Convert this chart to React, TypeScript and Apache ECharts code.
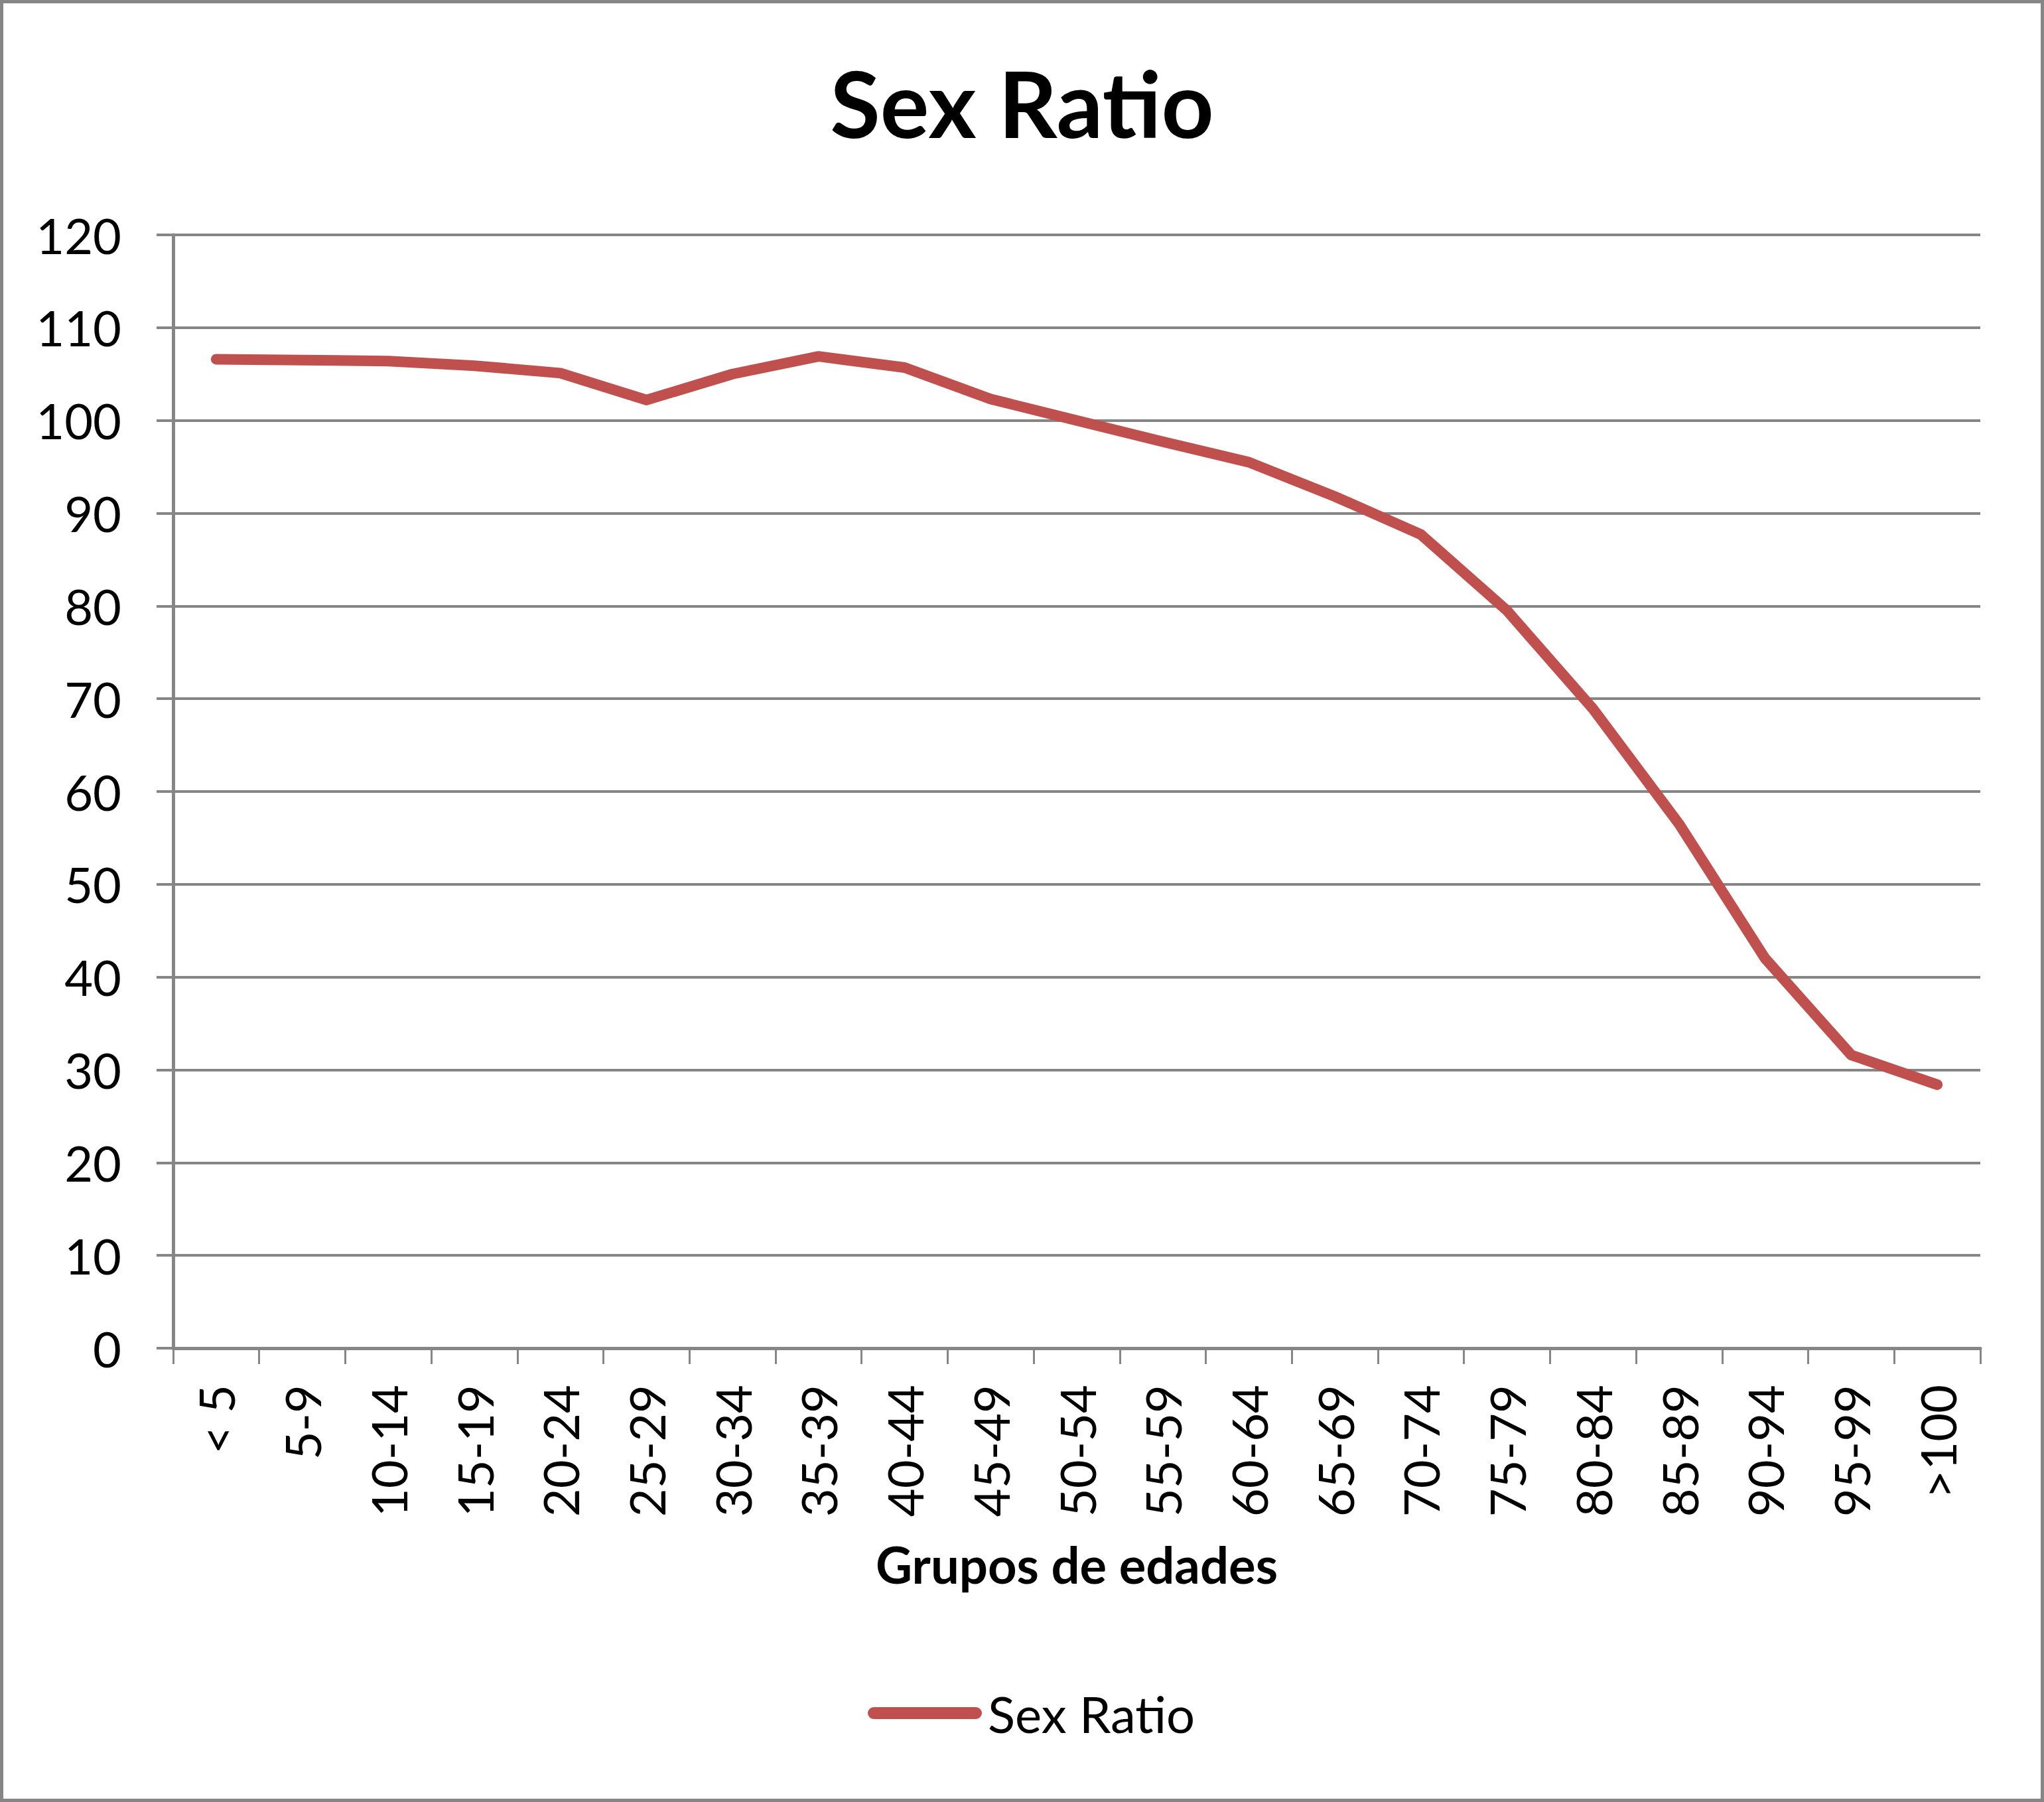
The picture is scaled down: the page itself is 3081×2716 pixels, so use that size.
import React, { useEffect, useRef } from "react";
import * as echarts from "echarts";

const categories = ["< 5", "5-9", "10-14", "15-19", "20-24", "25-29", "30-34", "35-39", "40-44", "45-49", "50-54", "55-59", "60-64", "65-69", "70-74", "75-79", "80-84", "85-89", "90-94", "95-99", ">100"];
const sexRatio = [106.6, 106.5, 106.4, 105.9, 105.1, 102.2, 105.0, 106.9, 105.7, 102.3, 100.0, 97.7, 95.5, 91.8, 87.7, 79.5, 68.9, 56.5, 42.0, 31.6, 28.4];
const yTicks = { min: 0, max: 120, interval: 10 };

const W = 3081;
const H = 2716;
const GRAY = "#868686";
const RED = "#C0504D";
const FONT = "Lato";

export default function App() {
  const ref = useRef<HTMLDivElement>(null);
  useEffect(() => {
    if (!ref.current) return;
    const chart = echarts.init(ref.current, null, { renderer: "svg" });
    chart.setOption({
      animation: false,
      backgroundColor: "#ffffff",
      title: {
        text: "Sex Ratio",
        left: "center",
        top: 80,
        textStyle: { fontFamily: FONT, fontWeight: "bold", fontSize: 138, color: "#000" },
      },
      graphic: [
        {
          type: "rect",
          shape: { x: 2.5, y: 2.5, width: W - 5, height: H - 5 },
          style: { fill: "none", stroke: GRAY, lineWidth: 5 },
          silent: true,
        },
      ],
      legend: {
        data: ["Sex Ratio"],
        left: 1303,
        top: 2539,
        itemWidth: 172,
        itemHeight: 18,
        itemGap: 10,
        icon: "path://M9,0 L163,0 A9,9 0 0 1 163,18 L9,18 A9,9 0 0 1 9,0 Z",
        itemStyle: { borderWidth: 0 },
        textStyle: { fontFamily: FONT, fontSize: 76, color: "#000", padding: [0, 0, 0, 4] },
      },
      grid: { left: 261, right: 96, top: 354, bottom: 684, containLabel: false },
      xAxis: {
        type: "category",
        data: categories,
        boundaryGap: true,
        axisLine: { show: true, lineStyle: { color: GRAY, width: 5 } },
        axisTick: { show: true, length: 24, lineStyle: { color: GRAY, width: 3 } },
        axisLabel: { interval: 0, rotate: 90, margin: 55, fontFamily: FONT, fontSize: 74, color: "#000" },
        name: "Grupos de edades",
        nameLocation: "middle",
        nameGap: 287,
        nameTextStyle: { fontFamily: FONT, fontWeight: "bold", fontSize: 76, color: "#000" },
      },
      yAxis: {
        type: "value",
        min: yTicks.min,
        max: yTicks.max,
        interval: yTicks.interval,
        axisLine: { show: true, lineStyle: { color: GRAY, width: 5 } },
        axisTick: { show: true, length: 25, lineStyle: { color: GRAY, width: 4 } },
        splitLine: { show: true, lineStyle: { color: GRAY, width: 4 } },
        axisLabel: { margin: 78, fontFamily: FONT, fontSize: 74, color: "#000" },
      },
      series: [
        {
          name: "Sex Ratio",
          type: "line",
          data: sexRatio,
          symbol: "none",
          color: RED,
          lineStyle: { color: RED, width: 16, cap: "round", join: "round" },
        },
      ],
    });
    return () => chart.dispose();
  }, []);
  return <div ref={ref} style={{ position: "absolute", left: 0, top: 0, width: W, height: H }} />;
}
